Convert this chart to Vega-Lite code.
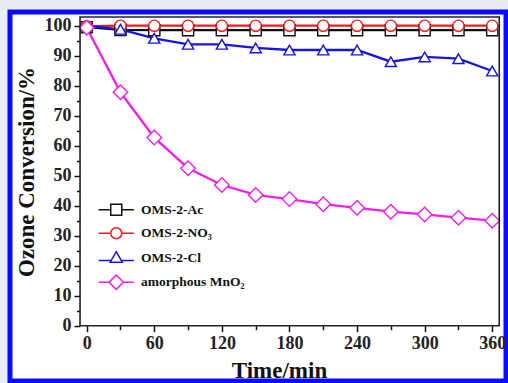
{
  "$schema": "https://vega.github.io/schema/vega-lite/v6.json",
  "autosize": {"type": "none"},
  "width": 496,
  "height": 369,
  "padding": {"left": 10, "top": 12, "right": 2, "bottom": 2},
  "background": "#e9eef4",
  "view": {"fill": "white", "stroke": "#0a0aff", "strokeWidth": 5},
  "config": {"font": "Liberation Serif", "axis": {"labelOverlap": false, "labelBound": false}},
  "data": {
    "values": [
      {"t": 0, "v": 99.5, "s": "OMS-2-Ac"},
      {"t": 30, "v": 98.6, "s": "OMS-2-Ac"},
      {"t": 60, "v": 98.5, "s": "OMS-2-Ac"},
      {"t": 90, "v": 98.5, "s": "OMS-2-Ac"},
      {"t": 120, "v": 98.5, "s": "OMS-2-Ac"},
      {"t": 150, "v": 98.5, "s": "OMS-2-Ac"},
      {"t": 180, "v": 98.5, "s": "OMS-2-Ac"},
      {"t": 210, "v": 98.5, "s": "OMS-2-Ac"},
      {"t": 240, "v": 98.5, "s": "OMS-2-Ac"},
      {"t": 270, "v": 98.5, "s": "OMS-2-Ac"},
      {"t": 300, "v": 98.5, "s": "OMS-2-Ac"},
      {"t": 330, "v": 98.5, "s": "OMS-2-Ac"},
      {"t": 360, "v": 98.5, "s": "OMS-2-Ac"},
      {"t": 0, "v": 99.8, "s": "OMS-2-NO₃"},
      {"t": 30, "v": 100, "s": "OMS-2-NO₃"},
      {"t": 60, "v": 100, "s": "OMS-2-NO₃"},
      {"t": 90, "v": 100, "s": "OMS-2-NO₃"},
      {"t": 120, "v": 100, "s": "OMS-2-NO₃"},
      {"t": 150, "v": 100, "s": "OMS-2-NO₃"},
      {"t": 180, "v": 100, "s": "OMS-2-NO₃"},
      {"t": 210, "v": 100, "s": "OMS-2-NO₃"},
      {"t": 240, "v": 100, "s": "OMS-2-NO₃"},
      {"t": 270, "v": 100, "s": "OMS-2-NO₃"},
      {"t": 300, "v": 100, "s": "OMS-2-NO₃"},
      {"t": 330, "v": 100, "s": "OMS-2-NO₃"},
      {"t": 360, "v": 100, "s": "OMS-2-NO₃"},
      {"t": 0, "v": 100, "s": "OMS-2-Cl"},
      {"t": 30, "v": 98.8, "s": "OMS-2-Cl"},
      {"t": 60, "v": 95.8, "s": "OMS-2-Cl"},
      {"t": 90, "v": 93.8, "s": "OMS-2-Cl"},
      {"t": 120, "v": 93.8, "s": "OMS-2-Cl"},
      {"t": 150, "v": 92.6, "s": "OMS-2-Cl"},
      {"t": 180, "v": 91.9, "s": "OMS-2-Cl"},
      {"t": 210, "v": 91.9, "s": "OMS-2-Cl"},
      {"t": 240, "v": 91.9, "s": "OMS-2-Cl"},
      {"t": 270, "v": 88, "s": "OMS-2-Cl"},
      {"t": 300, "v": 89.6, "s": "OMS-2-Cl"},
      {"t": 330, "v": 89, "s": "OMS-2-Cl"},
      {"t": 360, "v": 84.9, "s": "OMS-2-Cl"},
      {"t": 0, "v": 99.3, "s": "amorphous MnO₂"},
      {"t": 30, "v": 77.8, "s": "amorphous MnO₂"},
      {"t": 60, "v": 62.7, "s": "amorphous MnO₂"},
      {"t": 90, "v": 52.5, "s": "amorphous MnO₂"},
      {"t": 120, "v": 46.9, "s": "amorphous MnO₂"},
      {"t": 150, "v": 43.6, "s": "amorphous MnO₂"},
      {"t": 180, "v": 42.2, "s": "amorphous MnO₂"},
      {"t": 210, "v": 40.5, "s": "amorphous MnO₂"},
      {"t": 240, "v": 39.3, "s": "amorphous MnO₂"},
      {"t": 270, "v": 38, "s": "amorphous MnO₂"},
      {"t": 300, "v": 37.1, "s": "amorphous MnO₂"},
      {"t": 330, "v": 36, "s": "amorphous MnO₂"},
      {"t": 360, "v": 35, "s": "amorphous MnO₂"}
    ]
  },
  "resolve": {"scale": {"shape": "independent", "stroke": "independent", "x": "independent", "y": "independent"}},
  "layer": [
    {
      "mark": {"type": "line", "strokeWidth": 2.3},
      "encoding": {
        "x": {
          "field": "t", "type": "quantitative",
          "scale": {"domain": [-68.07, 372.2], "nice": false, "zero": false},
          "axis": {
            "title": "Time/min",
            "values": [0, 60, 120, 180, 240, 300, 360],
            "offset": -55.3,
            "domain": false,
            "grid": false,
            "tickSize": 6,
            "tickColor": "#111",
            "tickWidth": 1.5,
            "labelFont": "Liberation Serif",
            "labelFontWeight": "bold",
            "labelFontSize": 18,
            "labelColor": "#222",
            "labelPadding": 3,
            "labelFlush": false,
            "labelOverlap": false,
            "labelSeparation": -25,
            "titleFont": "Liberation Serif",
            "titleFontSize": 23,
            "titleFontWeight": "bold",
            "titleColor": "#111",
            "titleX": 269,
            "titleY": 52,
            "titleBaseline": "alphabetic"
          }
        },
        "y": {
          "field": "v", "type": "quantitative",
          "scale": {"domain": [-18.43, 104.57], "nice": false, "zero": false},
          "axis": {
            "title": "Ozone Conversion/%",
            "values": [0, 10, 20, 30, 40, 50, 60, 70, 80, 90, 100],
            "offset": -70,
            "domain": false,
            "grid": false,
            "tickSize": 6,
            "tickColor": "#111",
            "tickWidth": 1.5,
            "labelFont": "Liberation Serif",
            "labelFontWeight": "bold",
            "labelFontSize": 18,
            "labelColor": "#222",
            "labelPadding": 3,
            "labelFlush": false,
            "labelOverlap": false,
            "labelSeparation": -25,
            "titleFont": "Liberation Serif",
            "titleFontSize": 23,
            "titleFontWeight": "bold",
            "titleColor": "#111",
            "titleX": -47,
            "titleY": 159.5,
            "titleBaseline": "alphabetic"
          }
        },
        "color": {
          "field": "s", "type": "nominal",
          "scale": {
            "domain": ["OMS-2-Ac", "OMS-2-NO₃", "OMS-2-Cl", "amorphous MnO₂"],
            "range": ["#111111", "#ee1c1c", "#1515e0", "#f020e6"]
          },
          "legend": null
        }
      }
    },
    {
      "mark": {"type": "point", "filled": false, "fill": "white", "fillOpacity": 1, "opacity": 1, "strokeWidth": 1.4, "size": 125},
      "encoding": {
        "x": {"field": "t", "type": "quantitative", "scale": {"domain": [-68.07, 372.2], "nice": false, "zero": false}, "axis": null},
        "y": {"field": "v", "type": "quantitative", "scale": {"domain": [-18.43, 104.57], "nice": false, "zero": false}, "axis": null},
        "color": {"field": "s", "type": "nominal", "legend": null},
        "shape": {
          "field": "s", "type": "nominal",
          "scale": {
            "domain": ["OMS-2-Ac", "OMS-2-NO₃", "OMS-2-Cl", "amorphous MnO₂"],
            "range": ["square", "circle", "triangle-up", "M0,-1.3L1.3,0L0,1.3L-1.3,0Z"]
          },
          "legend": null
        }
      }
    },
    {
      "mark": {"type": "point", "filled": false, "opacity": 0, "strokeWidth": 1.5},
      "encoding": {
        "x": {"field": "t", "type": "quantitative", "scale": {"domain": [-68.07, 372.2], "nice": false, "zero": false}, "axis": null},
        "y": {"field": "v", "type": "quantitative", "scale": {"domain": [-18.43, 104.57], "nice": false, "zero": false}, "axis": null},
        "stroke": {
          "field": "s", "type": "nominal",
          "scale": {
            "domain": ["OMS-2-Ac", "OMS-2-NO₃", "OMS-2-Cl", "amorphous MnO₂"],
            "range": ["#111111", "#ee1c1c", "#1515e0", "#f020e6"]
          },
          "legend": {
            "title": null, "orient": "none", "legendX": 99.5, "legendY": 191,
            "padding": 0, "symbolSize": 121, "symbolStrokeWidth": 1.5, "symbolFillColor": "white",
            "symbolStrokeColor": "#000", "symbolOpacity": 1,
            "labelFont": "Liberation Serif", "labelFontWeight": "bold", "labelFontSize": 13.5,
            "labelColor": "#111", "labelOffset": 18, "rowPadding": 5.5
          }
        },
        "shape": {
          "field": "s", "type": "nominal",
          "scale": {
            "domain": ["OMS-2-Ac", "OMS-2-NO₃", "OMS-2-Cl", "amorphous MnO₂"],
            "range": [
              "M-3.2,0H-1M1,0H3.2M-1,-1H1V1H-1Z",
              "M-3.2,0H-1M1,0H3.2M-1,0A1,1,0,1,1,1,0A1,1,0,1,1,-1,0Z",
              "M-3.2,0.5H-0.93M0.93,0.5H3.2M0,-1.1L1.1,0.8H-1.1Z",
              "M-3.2,0H-1.3M1.3,0H3.2M0,-1.3L1.3,0L0,1.3L-1.3,0Z"
            ]
          },
          "legend": {
            "title": null, "orient": "none", "legendX": 99.5, "legendY": 191,
            "padding": 0, "symbolSize": 121, "symbolStrokeWidth": 1.5, "symbolFillColor": "white",
            "symbolStrokeColor": "#000", "symbolOpacity": 1,
            "labelFont": "Liberation Serif", "labelFontWeight": "bold", "labelFontSize": 13.5,
            "labelColor": "#111", "labelOffset": 18, "rowPadding": 5.5
          }
        }
      }
    },
    {
      "data": {"values": [{}]},
      "mark": {"type": "rect", "fill": null, "stroke": "#222", "strokeWidth": 1.6},
      "encoding": {
        "x": {
          "datum": -5.9, "type": "quantitative",
          "scale": {"domain": [-68.07, 372.2], "nice": false, "zero": false},
          "axis": {
            "title": null, "values": [30, 90, 150, 210, 270, 330], "labels": false,
            "orient": "bottom", "offset": -55.3, "domain": false, "grid": false,
            "tickSize": 4, "tickColor": "#111", "tickWidth": 1.5
          }
        },
        "x2": {"datum": 366.2},
        "y": {
          "datum": 0, "type": "quantitative",
          "scale": {"domain": [-18.43, 104.57], "nice": false, "zero": false},
          "axis": {
            "title": null, "values": [5, 15, 25, 35, 45, 55, 65, 75, 85, 95], "labels": false,
            "orient": "left", "offset": -70, "domain": false, "grid": false,
            "tickSize": 3.5, "tickColor": "#111", "tickWidth": 1.5
          }
        },
        "y2": {"datum": 102.9}
      }
    }
  ]
}
